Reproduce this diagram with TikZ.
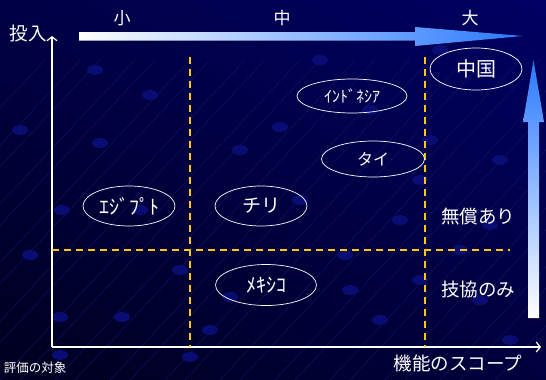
\documentclass[tikz,border=0pt]{standalone}
\usepackage{fontspec}
\setmainfont{Noto Sans CJK JP}
\usetikzlibrary{arrows.meta,shapes.geometric}
\definecolor{bgtop}{RGB}{0,0,100}
\definecolor{bgbot}{RGB}{0,0,45}
\definecolor{dotc}{RGB}{8,12,115}
\definecolor{netc}{RGB}{16,20,95}
\definecolor{gold}{RGB}{255,200,0}
\definecolor{arrblue}{RGB}{40,120,255}
\tikzset{
  axis/.style={draw=white, line width=1.3pt, -{Straight Barb[length=4pt,width=10pt,line width=1.2pt]}},
  guide/.style={draw=gold, line width=1.5pt, dash pattern=on 7pt off 5pt},
  country/.style={draw=white, line width=0.7pt, ellipse, text=white, inner sep=0pt},
  lbl/.style={text=white, font=\fontsize{18.5}{18.5}\selectfont, inner sep=0pt},
}
\begin{document}
\begin{tikzpicture}[x=1pt,y=-1pt]
\useasboundingbox (0,0) rectangle (546,380);
% background
\shade[top color=bgtop, bottom color=bgbot] (0,0) rectangle (546,380);
\shade[left color=black, right color=bgtop, opacity=0.3] (0,0) rectangle (546,380);
% faint network
\foreach \i in {-4,...,12}{
  \draw[netc, line width=0.5pt] (\i*55,380) -- (\i*55+300,60);
  \draw[netc, line width=0.5pt] (\i*55-200,380) -- (\i*55+100,60);
}
\foreach \x/\y in {30/255,62/210,100/143,140/210,180/270,210/330,240/150,300/200,345/255,380/320,420/280,460/250,490/225,480/300,510/340,60/317,122/317,190/357,60/355,230/297,280/127,370/110,430/140,500/160,440/50,150/95,95/70,20/130,320/60,400/220,420/180,350/290}{
  \fill[dotc] (\x,\y) ellipse (8pt and 5pt);
}
% top gradient arrow
\fill[left color=white, right color=arrblue]
  (79,32) -- (415,32) -- (415,27) -- (523,36) -- (415,46) -- (415,40.5) -- (79,40.5) -- cycle;
% right vertical gradient arrow
\fill[bottom color=white, top color=arrblue]
  (528,318) -- (528,122) -- (523,122) -- (533.5,60) -- (544,122) -- (539,122) -- (539,318) -- cycle;
% axes
\coordinate (O) at (52,347);
\coordinate (Ytip) at (52,36);
\coordinate (Xtip) at (541,347);
\draw[axis] (O) -- (Ytip);
\draw[axis] (O) -- (Xtip);
% guides
\coordinate (v1t) at (190,57); \coordinate (v1b) at (190,347);
\coordinate (v2t) at (425,57); \coordinate (v2b) at (425,347);
\coordinate (h1l) at (52,250); \coordinate (h1r) at (510,250);
\draw[guide] (v1t) -- (v1b);
\draw[guide] (v2t) -- (v2b);
\draw[guide] (h1l) -- (h1r);
% labels
\node[lbl] (touny) at (28,33) {投入};
\node[lbl, font=\fontsize{12.5}{12.5}\selectfont] (hyoka) at (35,368) {評価の対象};
\node[lbl] (kino) at (458,363) {機能のスコープ};
\node[lbl, font=\fontsize{17}{17}\selectfont] (sho) at (122,18) {小};
\node[lbl, font=\fontsize{17}{17}\selectfont] (chu) at (282,18) {中};
\node[lbl, font=\fontsize{17}{17}\selectfont] (dai) at (470,18) {大};
\node[lbl] (musho) at (478,216) {無償あり};
\node[lbl] (gikyo) at (478,289) {技協のみ};
% countries
\node[country, minimum width=92pt, minimum height=42pt, font=\fontsize{20}{20}\selectfont] (china) at (476,69) {中国};
\node[country, minimum width=110pt, minimum height=34pt, font=\fontsize{16}{16}\selectfont] (indo) at (352,96) {ｲﾝﾄﾞﾈｼｱ};
\node[country, minimum width=103pt, minimum height=36pt, font=\fontsize{16}{16}\selectfont] (thai) at (373,159) {タイ};
\node[country, minimum width=92pt, minimum height=40pt, font=\fontsize{20}{20}\selectfont] (egypt) at (129,206) {ｴｼﾞﾌﾟﾄ};
\node[country, minimum width=92pt, minimum height=40pt, font=\fontsize{19}{19}\selectfont] (chile) at (261,206) {チリ};
\node[country, minimum width=101pt, minimum height=41pt, font=\fontsize{20}{20}\selectfont] (mexico) at (266,285) {ﾒｷｼｺ};
\end{tikzpicture}
\end{document}
